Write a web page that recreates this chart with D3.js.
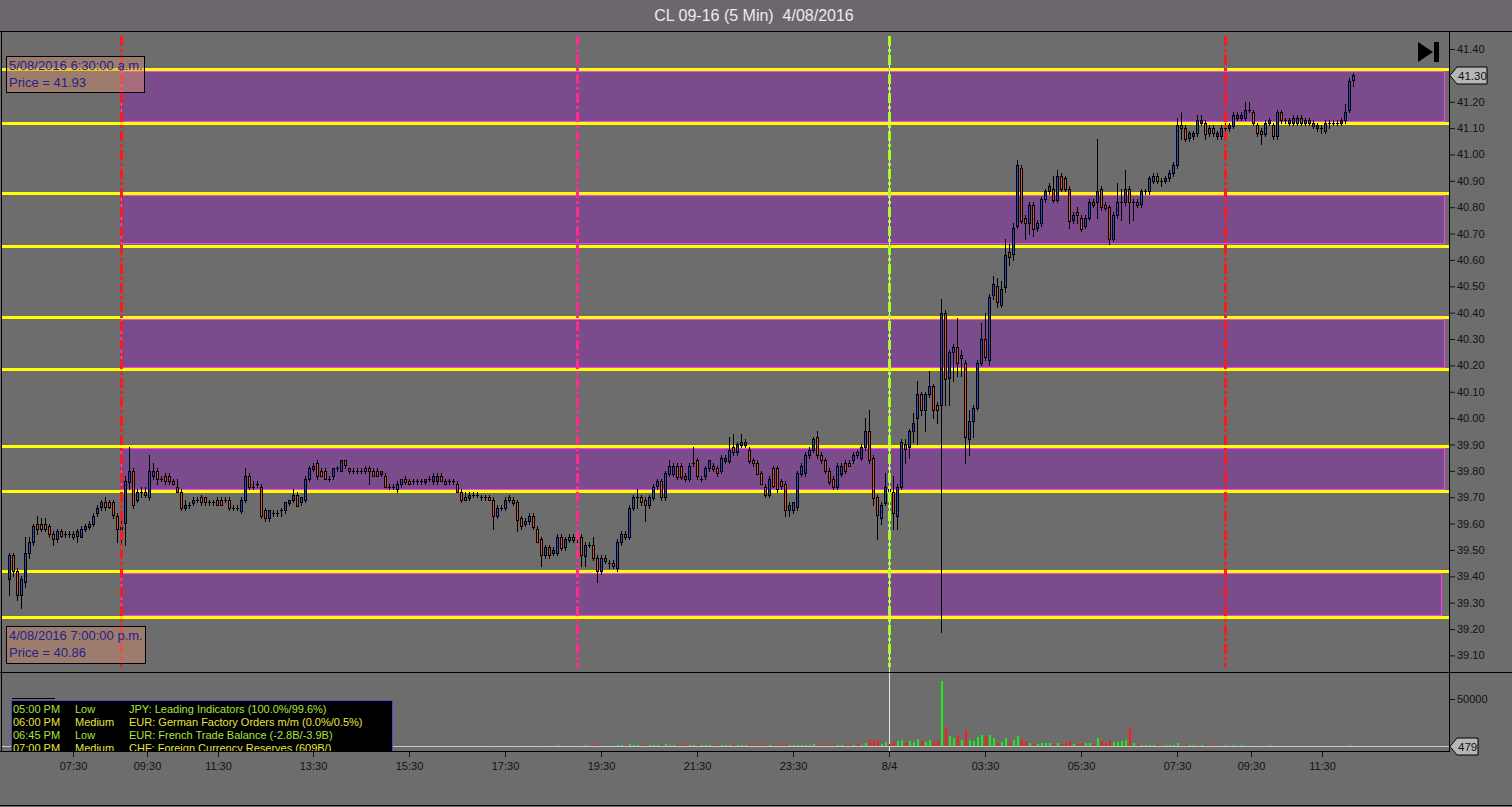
<!DOCTYPE html>
<html><head><meta charset="utf-8">
<script src="https://cdn.jsdelivr.net/npm/d3@7"></script>
<style>
html,body{margin:0;padding:0;background:#6d6d6d;overflow:hidden}
svg{display:block}
text{font-family:"Liberation Sans",Arial,sans-serif}
</style></head><body>
<svg id="c" width="1512" height="807"></svg>
<script>
// ---------- DATA ----------
const chartTitle = "CL 09-16 (5 Min)  4/08/2016";
// [open, high, low, close] per 5-minute bar
const candles = [
[39.39,39.49,39.33,39.48],[39.48,39.49,39.40,39.42],[39.42,39.43,39.31,39.33],[39.33,39.40,39.28,39.39],[39.38,39.55,39.36,39.49],
[39.49,39.55,39.47,39.53],[39.53,39.60,39.52,39.59],[39.60,39.63,39.56,39.58],[39.60,39.62,39.57,39.58],[39.60,39.62,39.57,39.58],
[39.59,39.60,39.55,39.56],[39.56,39.57,39.52,39.54],[39.54,39.58,39.53,39.57],[39.57,39.58,39.55,39.55],[39.56,39.57,39.55,39.56],
[39.56,39.57,39.55,39.56],[39.56,39.57,39.54,39.55],[39.55,39.58,39.53,39.57],[39.55,39.59,39.55,39.58],[39.58,39.60,39.57,39.59],
[39.59,39.61,39.58,39.60],[39.60,39.64,39.59,39.63],[39.64,39.67,39.63,39.66],[39.66,39.69,39.65,39.68],[39.68,39.70,39.65,39.66],
[39.68,39.69,39.66,39.66],[39.68,39.69,39.62,39.63],[39.63,39.64,39.53,39.58],[39.57,39.61,39.52,39.60],[39.60,39.78,39.52,39.76],
[39.76,39.89,39.73,39.80],[39.80,39.81,39.66,39.67],[39.69,39.73,39.68,39.72],[39.72,39.74,39.70,39.72],[39.72,39.74,39.70,39.71],
[39.70,39.86,39.69,39.80],[39.78,39.83,39.77,39.80],[39.80,39.81,39.75,39.77],[39.77,39.78,39.76,39.77],[39.78,39.79,39.75,39.76],
[39.78,39.79,39.75,39.76],[39.76,39.77,39.75,39.75],[39.74,39.77,39.72,39.72],[39.72,39.73,39.65,39.66],[39.66,39.69,39.65,39.67],
[39.67,39.68,39.66,39.67],[39.68,39.70,39.67,39.69],[39.69,39.70,39.68,39.69],[39.70,39.71,39.67,39.68],[39.70,39.70,39.67,39.68],
[39.68,39.69,39.67,39.68],[39.68,39.69,39.67,39.68],[39.69,39.70,39.67,39.67],[39.69,39.70,39.67,39.67],[39.69,39.70,39.68,39.69],
[39.69,39.70,39.65,39.66],[39.66,39.67,39.65,39.66],[39.66,39.67,39.65,39.66],[39.65,39.70,39.64,39.69],[39.69,39.81,39.68,39.78],
[39.78,39.79,39.73,39.74],[39.74,39.76,39.73,39.74],[39.75,39.76,39.74,39.75],[39.74,39.75,39.62,39.63],[39.65,39.66,39.61,39.62],
[39.62,39.65,39.61,39.65],[39.64,39.65,39.63,39.64],[39.64,39.65,39.63,39.64],[39.65,39.66,39.63,39.65],[39.65,39.68,39.64,39.68],
[39.68,39.69,39.67,39.69],[39.69,39.73,39.68,39.71],[39.71,39.72,39.67,39.67],[39.68,39.70,39.67,39.70],[39.69,39.78,39.68,39.77],
[39.77,39.82,39.76,39.81],[39.81,39.83,39.80,39.82],[39.83,39.84,39.77,39.78],[39.80,39.81,39.78,39.78],[39.80,39.81,39.77,39.77],
[39.77,39.78,39.76,39.77],[39.78,39.81,39.77,39.81],[39.81,39.82,39.80,39.81],[39.80,39.84,39.80,39.84],[39.84,39.84,39.81,39.82],
[39.81,39.81,39.79,39.80],[39.80,39.81,39.79,39.80],[39.80,39.81,39.79,39.80],[39.80,39.81,39.79,39.80],[39.81,39.82,39.79,39.80],
[39.81,39.82,39.75,39.80],[39.80,39.81,39.78,39.78],[39.80,39.81,39.78,39.78],[39.79,39.80,39.78,39.80],[39.78,39.79,39.74,39.74],
[39.74,39.75,39.73,39.74],[39.74,39.75,39.73,39.74],[39.73,39.76,39.72,39.75],[39.75,39.77,39.74,39.77],[39.77,39.78,39.75,39.76],
[39.76,39.77,39.75,39.75],[39.76,39.77,39.75,39.76],[39.76,39.77,39.75,39.76],[39.76,39.77,39.75,39.76],[39.76,39.77,39.75,39.77],
[39.77,39.78,39.76,39.77],[39.76,39.79,39.75,39.78],[39.76,39.79,39.75,39.78],[39.78,39.79,39.76,39.76],[39.76,39.77,39.75,39.75],
[39.76,39.77,39.75,39.76],[39.76,39.77,39.75,39.76],[39.75,39.76,39.72,39.72],[39.72,39.73,39.68,39.69],[39.70,39.72,39.69,39.69],
[39.70,39.72,39.69,39.71],[39.71,39.72,39.70,39.71],[39.71,39.72,39.70,39.71],[39.70,39.71,39.69,39.70],[39.70,39.71,39.69,39.70],
[39.70,39.71,39.69,39.69],[39.69,39.70,39.58,39.63],[39.63,39.67,39.62,39.66],[39.66,39.67,39.65,39.66],[39.66,39.70,39.65,39.69],
[39.70,39.71,39.68,39.69],[39.69,39.70,39.67,39.68],[39.68,39.69,39.57,39.61],[39.62,39.63,39.58,39.59],[39.60,39.62,39.59,39.61],
[39.61,39.64,39.60,39.63],[39.63,39.64,39.58,39.59],[39.58,39.59,39.53,39.53],[39.54,39.55,39.44,39.48],[39.48,39.52,39.47,39.51],
[39.51,39.52,39.47,39.48],[39.49,39.51,39.48,39.50],[39.49,39.56,39.48,39.55],[39.55,39.56,39.50,39.51],[39.51,39.55,39.50,39.54],
[39.55,39.56,39.53,39.54],[39.55,39.56,39.53,39.54],[39.54,39.57,39.53,39.56],[39.55,39.56,39.44,39.48],[39.48,39.53,39.44,39.52],
[39.52,39.53,39.51,39.52],[39.52,39.55,39.46,39.47],[39.47,39.48,39.38,39.42],[39.42,39.48,39.41,39.47],[39.47,39.48,39.45,39.46],
[39.45,39.46,39.43,39.45],[39.45,39.46,39.43,39.44],[39.43,39.54,39.42,39.53],[39.53,39.57,39.52,39.56],[39.56,39.57,39.54,39.55],
[39.55,39.67,39.54,39.66],[39.66,39.71,39.65,39.70],[39.70,39.73,39.66,39.70],[39.70,39.71,39.67,39.68],[39.69,39.70,39.61,39.67],
[39.67,39.71,39.66,39.70],[39.70,39.75,39.69,39.74],[39.74,39.77,39.73,39.76],[39.76,39.77,39.69,39.70],[39.70,39.80,39.69,39.79],
[39.79,39.84,39.78,39.82],[39.79,39.83,39.78,39.82],[39.82,39.83,39.77,39.78],[39.82,39.83,39.77,39.78],[39.78,39.79,39.76,39.77],
[39.77,39.83,39.76,39.82],[39.83,39.89,39.82,39.83],[39.84,39.85,39.77,39.78],[39.77,39.78,39.76,39.77],[39.78,39.82,39.77,39.81],
[39.81,39.84,39.80,39.84],[39.82,39.83,39.80,39.81],[39.81,39.82,39.78,39.79],[39.80,39.86,39.79,39.85],[39.84,39.86,39.83,39.85],
[39.84,39.93,39.83,39.88],[39.89,39.94,39.86,39.87],[39.87,39.91,39.86,39.90],[39.90,39.94,39.89,39.91],[39.90,39.92,39.89,39.91],
[39.88,39.89,39.83,39.84],[39.84,39.85,39.82,39.83],[39.83,39.84,39.79,39.79],[39.79,39.80,39.75,39.75],[39.74,39.75,39.70,39.71],
[39.71,39.78,39.70,39.77],[39.81,39.82,39.74,39.74],[39.81,39.82,39.72,39.73],[39.76,39.77,39.73,39.74],[39.75,39.76,39.63,39.65],
[39.65,39.68,39.63,39.67],[39.65,39.68,39.64,39.68],[39.66,39.80,39.65,39.79],[39.79,39.83,39.78,39.82],[39.79,39.87,39.78,39.86],
[39.86,39.89,39.85,39.88],[39.88,39.93,39.87,39.92],[39.93,39.95,39.85,39.86],[39.86,39.87,39.83,39.84],[39.84,39.85,39.79,39.80],
[39.80,39.81,39.75,39.76],[39.77,39.78,39.73,39.74],[39.74,39.83,39.73,39.82],[39.79,39.83,39.78,39.82],[39.83,39.84,39.79,39.80],
[39.83,39.84,39.82,39.82],[39.84,39.87,39.83,39.86],[39.87,39.88,39.85,39.86],[39.85,39.90,39.84,39.89],[39.89,40.00,39.88,39.95],
[39.95,40.03,39.83,39.84],[39.85,39.86,39.67,39.70],[39.70,39.71,39.54,39.63],[39.62,39.68,39.60,39.67],[39.68,39.79,39.67,39.74],
[39.74,39.75,39.71,39.72],[39.72,39.78,39.58,39.64],[39.63,39.75,39.58,39.74],[39.74,39.92,39.73,39.91],[39.90,39.92,39.83,39.88],
[39.89,39.96,39.85,39.95],[39.95,40.02,39.91,39.98],[40.00,40.14,39.90,40.09],[40.09,40.10,40.01,40.03],[40.03,40.10,39.95,40.09],
[40.09,40.18,40.08,40.12],[40.12,40.13,40.00,40.03],[40.05,40.06,39.98,40.03],[40.05,40.45,39.19,40.40],[40.40,40.41,40.05,40.15],
[40.15,40.26,40.05,40.25],[40.25,40.28,40.14,40.27],[40.27,40.38,40.16,40.21],[40.23,40.26,40.16,40.24],[40.21,40.22,39.83,39.93],
[39.92,40.03,39.86,39.99],[39.99,40.05,39.93,40.04],[40.04,40.22,40.03,40.21],[40.21,40.36,40.20,40.30],[40.30,40.40,40.22,40.23],
[40.22,40.47,40.20,40.46],[40.47,40.54,40.45,40.51],[40.50,40.53,40.42,40.44],[40.43,40.52,40.42,40.49],[40.50,40.68,40.48,40.62],
[40.63,40.66,40.58,40.61],[40.62,40.74,40.60,40.72],[40.73,40.98,40.72,40.96],[40.95,40.96,40.74,40.75],[40.76,40.77,40.68,40.74],
[40.74,40.82,40.70,40.81],[40.81,40.82,40.69,40.72],[40.72,40.75,40.71,40.74],[40.74,40.84,40.73,40.83],[40.83,40.87,40.82,40.86],
[40.86,40.89,40.85,40.88],[40.87,40.92,40.82,40.83],[40.83,40.94,40.82,40.92],[40.92,40.93,40.86,40.87],[40.91,40.92,40.86,40.87],
[40.87,40.88,40.72,40.75],[40.75,40.78,40.74,40.77],[40.78,40.80,40.74,40.77],[40.76,40.77,40.71,40.72],[40.73,40.77,40.72,40.76],
[40.76,40.83,40.75,40.82],[40.82,40.83,40.80,40.81],[40.82,41.06,40.76,40.86],[40.87,40.88,40.79,40.80],[40.81,40.82,40.79,40.80],
[40.80,40.81,40.66,40.68],[40.68,40.78,40.67,40.77],[40.77,40.89,40.76,40.82],[40.82,40.87,40.75,40.82],[40.82,40.94,40.81,40.87],
[40.87,40.88,40.74,40.82],[40.82,40.83,40.75,40.82],[40.82,40.83,40.80,40.81],[40.81,40.87,40.80,40.86],[40.86,40.87,40.85,40.86],
[40.86,40.92,40.85,40.91],[40.90,40.93,40.89,40.92],[40.92,40.93,40.89,40.90],[40.90,40.91,40.88,40.90],[40.90,40.92,40.89,40.91],
[40.91,40.94,40.90,40.93],[40.93,40.97,40.92,40.96],[40.96,41.14,40.95,41.11],[41.11,41.16,41.06,41.10],[41.10,41.11,41.05,41.06],
[41.06,41.09,41.05,41.08],[41.07,41.09,41.06,41.08],[41.08,41.15,41.07,41.13],[41.12,41.15,41.11,41.13],[41.12,41.13,41.06,41.08],
[41.08,41.11,41.07,41.10],[41.10,41.11,41.07,41.08],[41.07,41.09,41.06,41.08],[41.07,41.11,41.06,41.10],[41.10,41.12,41.08,41.10],
[41.10,41.12,41.09,41.11],[41.11,41.16,41.10,41.15],[41.14,41.16,41.13,41.15],[41.14,41.16,41.13,41.15],[41.14,41.20,41.13,41.17],
[41.17,41.20,41.16,41.17],[41.16,41.17,41.11,41.12],[41.11,41.12,41.07,41.08],[41.09,41.10,41.04,41.08],[41.08,41.13,41.07,41.12],
[41.12,41.14,41.11,41.13],[41.11,41.12,41.06,41.07],[41.07,41.17,41.06,41.16],[41.16,41.17,41.12,41.13],[41.13,41.14,41.12,41.13],
[41.12,41.14,41.11,41.13],[41.12,41.15,41.11,41.14],[41.12,41.15,41.11,41.14],[41.14,41.15,41.11,41.12],[41.12,41.14,41.11,41.13],
[41.13,41.14,41.11,41.12],[41.12,41.13,41.10,41.11],[41.10,41.12,41.09,41.11],[41.10,41.11,41.08,41.10],[41.09,41.13,41.08,41.12],
[41.12,41.13,41.10,41.12],[41.12,41.13,41.11,41.12],[41.12,41.13,41.11,41.12],[41.12,41.14,41.11,41.13],[41.13,41.19,41.12,41.16],
[41.17,41.29,41.16,41.28],[41.28,41.31,41.26,41.30]
];
const volumes = [
300,250,400,300,450,250,350,200,150,250,200,250,150,120,120,150,200,250,150,200,250,300,250,200,150,250,350,450,
500,900,700,800,400,250,250,600,300,300,150,200,250,150,250,450,250,150,200,150,200,150,120,120,150,120,200,150,120,250,550,300,
250,150,150,350,300,200,120,120,150,250,200,300,250,200,450,400,250,300,200,250,150,200,150,250,200,150,120,120,120,150,
200,150,150,120,300,150,120,200,250,150,150,120,120,120,150,120,200,200,150,150,
150,150,300,350,200,200,150,150,150,150,200,600,300,150,300,250,250,550,400,250,300,450,500,700,400,450,300,600,500,400,
300,300,350,700,600,300,650,900,500,400,300,350,
1500,900,700,2200,1300,900,700,900,800,1100,900,1000,1600,1300,900,1000,800,600,1200,1300,900,700,900,1100,800,700,1200,900,1400,1100,
900,1000,800,700,600,700,900,1000,1200,900,1300,1500,1000,1200,1000,800,1100,900,1300,1700,1100,900,800,1000,1400,1300,1200,900,1000,1200,1700,
1500,2800,7800,5000,6700,2500,3900,2500,3900,5700,6700,3900,5000,3900,7800,5300,3900,6700,4200,6000,
69500,20200,10300,8500,11300,6000,17400,6700,5700,9200,11300,10300,11300,8900,3500,3900,8900,3900,6700,11000,
7800,4600,3200,2500,2500,3200,3500,2800,2500,3500,2100,2800,5700,2500,2500,3500,2800,2800,2500,8900,
5700,3500,6000,4600,4200,5000,6000,20200,3500,1100,
900,1200,700,800,600,500,700,600,900,3500,1500,1000,700,600,500,800,600,500,700,500,400,600,500,700,500,600,400,500,400,600,
500,400,600,500,400,300,500,400,300,400,500,400,300,400,300,400,300,300,400,300,400,500,1500,479
];
const priceTicks = [41.40,41.30,41.20,41.10,41.00,40.90,40.80,40.70,40.60,40.50,40.40,40.30,40.20,40.10,40.00,39.90,39.80,39.70,39.60,39.50,39.40,39.30,39.20,39.10];
const volumeTicks = [50000];
const timeTickIdx = [16,34.5,52.25,76,100,124,148,172,196,220,244,268,292,310.5,328.25];
const timeTickLabels = ["07:30","09:30","11:30","13:30","15:30","17:30","19:30","21:30","23:30","8/4","03:30","05:30","07:30","09:30","11:30"];
// supply/demand zones (price levels)
const zoneTop = [41.323,40.853,40.384,39.894,39.420];
const zoneBottom = [41.119,40.654,40.187,39.723,39.247];
const zoneStartIdx = [28,28,28,28,28];
const zoneEndIdx = [358.8,358.8,358.8,358.8,357.9];
// vertical session markers (bar index)
const markerIdx = [28,142,220,304];
const markerColor = ["#ff1a1a","#ff2a8c","#a6ff1e","#ff1a1a"];
// info boxes
const infoLines = [["5/08/2016 6:30:00 a.m.","Price = 41.93"],["4/08/2016 7:00:00 p.m.","Price = 40.86"]];
// economic events
const evTime = ["05:00 PM","06:00 PM","06:45 PM","07:00 PM"];
const evImpact = ["Low","Medium","Low","Medium"];
const evText = ["JPY: Leading Indicators (100.0%/99.6%)","EUR: German Factory Orders m/m (0.0%/0.5%)","EUR: French Trade Balance (-2.8B/-3.9B)","CHF: Foreign Currency Reserves (609B/)"];

// ---------- LAYOUT ----------
const W = 1512, H = 807;
const plotR = 1449, titleB = 31, priceB = 672, volB = 751;
const svg = d3.select("#c");
const FONT = "'Liberation Sans', Arial, sans-serif";

const x = d3.scaleLinear().domain([0, 336]).range([9, 1353]);
const y = d3.scaleLinear().domain([39.10, 41.40]).range([655.4, 49]);
const vy = d3.scaleLinear().domain([0, 50000]).range([746, 699]);

const defs = svg.append("defs");
defs.append("clipPath").attr("id","clipP").append("rect").attr("x",1).attr("y",titleB+1).attr("width",plotR-1).attr("height",priceB-titleB-1);
defs.append("clipPath").attr("id","clipV").append("rect").attr("x",1).attr("y",priceB+1).attr("width",plotR-1).attr("height",volB-priceB-1);

// backgrounds
svg.append("rect").attr("width",W).attr("height",H).attr("fill","#6d6d6d");
svg.append("rect").attr("width",W).attr("height",titleB).attr("fill","#6b676d");

// title
svg.append("text").attr("x",754).attr("y",21).attr("text-anchor","middle")
  .attr("font-family","'Open Sans','Noto Sans',sans-serif").attr("font-size",16)
  .attr("fill","#ececec").style("white-space","pre").text(chartTitle);

// ---------- PRICE PANEL ----------
const gP = svg.append("g").attr("clip-path","url(#clipP)");
// zones
zoneTop.forEach((t,k)=>{
  const yt = y(t), yb = y(zoneBottom[k]);
  gP.append("rect").attr("x",Math.round(x(zoneStartIdx[k]))+0.5).attr("y",Math.round(yt)+2.5)
    .attr("width",Math.round(x(zoneEndIdx[k])-x(zoneStartIdx[k])))
    .attr("height",Math.round(yb-yt)-4)
    .attr("fill","#7a4c8c").attr("stroke","#ff3cff").attr("stroke-width",1);
});
// yellow levels
const levels = zoneTop.concat(zoneBottom);
gP.selectAll("line.lvl").data(levels).join("line").attr("class","lvl")
  .attr("x1",2).attr("x2",plotR).attr("y1",d=>Math.round(y(d))+0.5).attr("y2",d=>Math.round(y(d))+0.5)
  .attr("stroke","#ffff00").attr("stroke-width",3);

// candles
const up = d => d[3] >= d[0];
const cx = i => Math.round(x(i));
const gC = gP.append("g").attr("shape-rendering","crispEdges");
gC.selectAll("line.wick").data(candles).join("line").attr("class","wick")
  .attr("x1",(d,i)=>cx(i)+0.5).attr("x2",(d,i)=>cx(i)+0.5)
  .attr("y1",d=>Math.round(y(d[1]))).attr("y2",d=>Math.round(y(d[2]))+1)
  .attr("stroke","#000").attr("stroke-width",1);
const bodies = candles.map((d,i)=>({d,i})).filter(o=>o.d[0]!==o.d[3]);
gC.selectAll("rect.body").data(bodies).join("rect").attr("class","body")
  .attr("x",o=>cx(o.i)-0.5)
  .attr("y",o=>Math.round(y(Math.max(o.d[0],o.d[3])))+0.5)
  .attr("width",2)
  .attr("height",o=>Math.max(1,Math.round(y(Math.min(o.d[0],o.d[3]))-y(Math.max(o.d[0],o.d[3])))))
  .attr("fill",o=>up(o.d)?"#2b3fa8":"#d44a2c").attr("stroke","#000").attr("stroke-width",1);
// coloured core so the body hue reads like the reference
gC.selectAll("rect.core").data(bodies.filter(o=>Math.abs(y(o.d[0])-y(o.d[3]))>3)).join("rect").attr("class","core")
  .attr("x",o=>cx(o.i))
  .attr("y",o=>Math.round(y(Math.max(o.d[0],o.d[3])))+1)
  .attr("width",1)
  .attr("height",o=>Math.max(1,Math.round(y(Math.min(o.d[0],o.d[3]))-y(Math.max(o.d[0],o.d[3])))-1))
  .attr("fill",o=>up(o.d)?"#3048c0":"#e0502e");
const dojis = candles.map((d,i)=>({d,i})).filter(o=>o.d[0]===o.d[3]);
gC.selectAll("line.doji").data(dojis).join("line").attr("class","doji")
  .attr("x1",o=>cx(o.i)-1).attr("x2",o=>cx(o.i)+2)
  .attr("y1",o=>Math.round(y(o.d[0]))+0.5).attr("y2",o=>Math.round(y(o.d[0]))+0.5)
  .attr("stroke","#000").attr("stroke-width",1);

// vertical markers
markerIdx.forEach((m,k)=>{
  const xm = cx(m)+0.5;
  if (k===2) svg.append("line").attr("x1",xm).attr("x2",xm).attr("y1",36).attr("y2",volB).attr("stroke","#e8e8e8").attr("stroke-width",1);
  svg.append("line").attr("x1",xm).attr("x2",xm).attr("y1",36).attr("y2",667)
    .attr("stroke",markerColor[k]).attr("stroke-width",3).attr("stroke-dasharray","10,3,3,3");
});

// info boxes
const boxPos = [[6.5,56.5,138,36],[6.5,626.5,139,37]];
infoLines.forEach((ls,k)=>{
  const [bx,by,bw,bh] = boxPos[k];
  svg.append("rect").attr("x",bx).attr("y",by).attr("width",bw).attr("height",bh)
    .attr("fill","rgba(205,140,110,0.5)").attr("stroke","#000").attr("stroke-width",1);
  ls.forEach((t,j)=>svg.append("text").attr("x",bx+2.5).attr("y",by+13.5+j*17)
    .attr("font-family",FONT).attr("font-size",13).attr("fill","#23238c").text(t));
});

// play-to-end icon
svg.append("path").attr("d","M1418,42 L1433,52 L1418,62 Z").attr("fill","#000");
svg.append("rect").attr("x",1434).attr("y",42).attr("width",5).attr("height",20).attr("fill","#000");

// ---------- VOLUME PANEL ----------
const gV = svg.append("g").attr("clip-path","url(#clipV)").attr("shape-rendering","crispEdges");
gV.append("line").attr("x1",1).attr("x2",plotR).attr("y1",746.5).attr("y2",746.5).attr("stroke","#c8c8c8");
gV.selectAll("rect.vol").data(volumes).join("rect").attr("class","vol")
  .attr("x",(v,i)=>cx(i)).attr("width",2)
  .attr("y",v=>vy(v)).attr("height",v=>Math.max(0,vy(0)-vy(v)))
  .attr("fill",(v,i)=>candles[i] && up(candles[i]) ? "#1ee81e" : "#ff1a1a");

// ---------- AXES ----------
const yAxis = d3.axisRight(y).tickValues(priceTicks).tickFormat(d3.format(".2f")).tickSize(6).tickPadding(2);
svg.append("g").attr("transform",`translate(${plotR},0)`).call(yAxis)
  .call(g=>g.select(".domain").remove())
  .attr("font-family",FONT).attr("font-size",11).attr("color","#111");
const vAxis = d3.axisRight(vy).tickValues(volumeTicks).tickFormat(d3.format("d")).tickSize(6).tickPadding(2);
svg.append("g").attr("transform",`translate(${plotR},0)`).call(vAxis)
  .call(g=>g.select(".domain").remove())
  .attr("font-family",FONT).attr("font-size",11).attr("color","#111");
const xAxis = d3.axisBottom(x).tickValues(timeTickIdx).tickFormat((d,i)=>timeTickLabels[i]).tickSize(6).tickPadding(5);
svg.append("g").attr("transform",`translate(0,${volB})`).call(xAxis)
  .call(g=>g.select(".domain").remove())
  .attr("font-family",FONT).attr("font-size",11).attr("color","#111");

// ---------- EVENT TABLE ----------
const gT = svg.append("g").attr("clip-path","url(#clipV)");
gT.append("rect").attr("x",11.5).attr("y",700.5).attr("width",381).attr("height",60)
  .attr("fill","#000").attr("stroke","#4a4ad0").attr("stroke-width",1);
const rowCol = imp => imp==="Low" ? "#a9e43c" : "#e6e63a";
evTime.forEach((t,r)=>{
  const yy = 713 + r*13;
  const col = rowCol(evImpact[r]);
  gT.append("text").attr("x",13).attr("y",yy).attr("font-family",FONT).attr("font-size",11).attr("fill",col).text(t);
  gT.append("text").attr("x",75).attr("y",yy).attr("font-family",FONT).attr("font-size",11).attr("fill",col).text(evImpact[r]);
  gT.append("text").attr("x",129).attr("y",yy).attr("font-family",FONT).attr("font-size",11).attr("fill",col).text(evText[r]);
});
svg.append("line").attr("x1",12).attr("x2",55).attr("y1",698.5).attr("y2",698.5).attr("stroke","#000");

// ---------- MARKERS ON AXES ----------
function axisTag(yc, w, label){
  const g = svg.append("g");
  g.append("path").attr("d",`M${plotR+1},${yc} L${plotR+8},${yc-8.5} L${plotR+w},${yc-8.5} L${plotR+w},${yc+8.5} L${plotR+8},${yc+8.5} Z`)
    .attr("fill","#b6b6b6").attr("stroke","#000").attr("stroke-width",1);
  g.append("text").attr("x",plotR+9).attr("y",yc+4).attr("font-family",FONT).attr("font-size",11.5).attr("fill","#111").text(label);
}
const last = candles[candles.length-1];
axisTag(Math.round(y(last[3]))+0.5, 38, d3.format(".2f")(last[3]));
axisTag(746.5, 29, String(volumes[volumes.length-1]));

// ---------- FRAME LINES ----------
const frame = svg.append("g").attr("stroke","#000").attr("shape-rendering","crispEdges");
frame.append("line").attr("x1",0).attr("x2",W).attr("y1",titleB+0.5).attr("y2",titleB+0.5);
frame.append("line").attr("x1",0).attr("x2",W).attr("y1",priceB+0.5).attr("y2",priceB+0.5);
frame.append("line").attr("x1",0).attr("x2",plotR).attr("y1",volB+0.5).attr("y2",volB+0.5);
frame.append("line").attr("x1",plotR+0.5).attr("x2",plotR+0.5).attr("y1",titleB).attr("y2",volB+1);
frame.append("line").attr("x1",1.5).attr("x2",1.5).attr("y1",titleB).attr("y2",volB+1);
frame.append("line").attr("x1",0).attr("x2",W).attr("y1",805.5).attr("y2",805.5);
</script>
</body></html>
